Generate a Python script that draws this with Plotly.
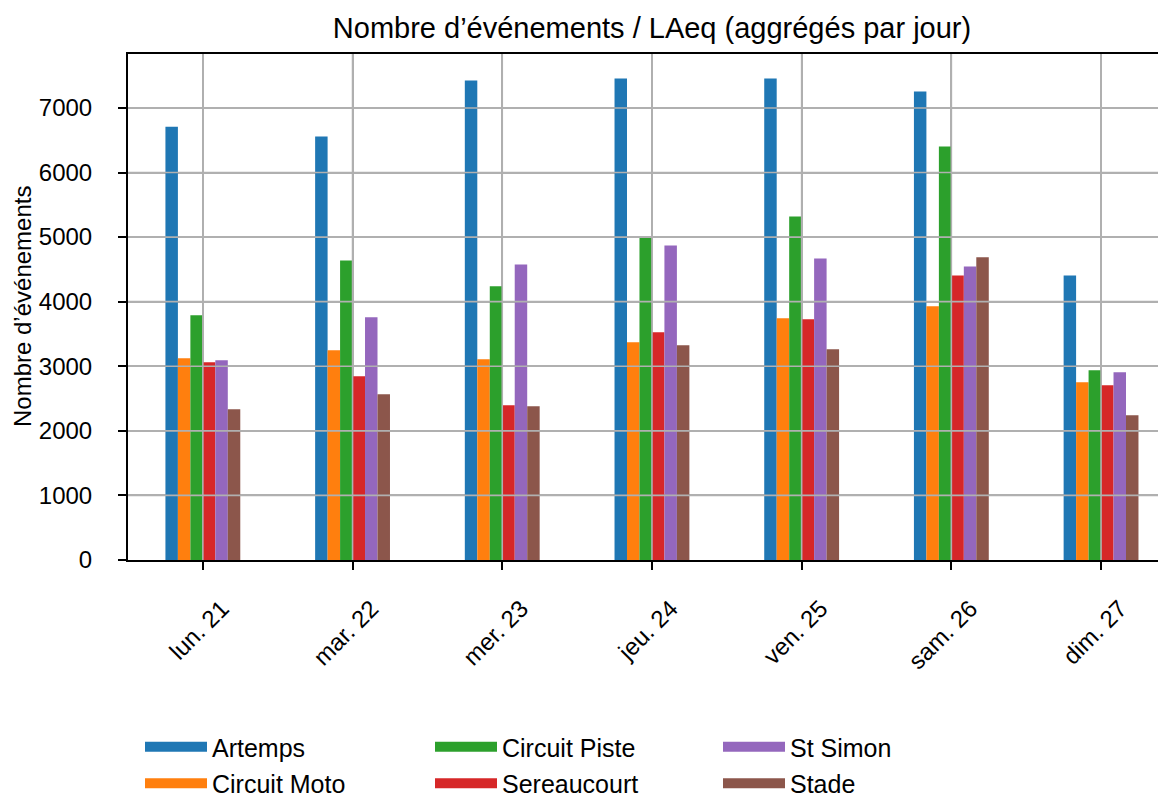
import plotly.graph_objects as go

days = ["lun. 21", "mar. 22", "mer. 23", "jeu. 24", "ven. 25", "sam. 26", "dim. 27"]
artemps = [6710, 6557, 7423, 7454, 7454, 7253, 4407]
circuit_moto = [3124, 3247, 3108, 3371, 3742, 3928, 2753]
circuit_piste = [3789, 4639, 4237, 4985, 5320, 6402, 2938]
sereaucourt = [3062, 2845, 2397, 3526, 3727, 4407, 2706]
st_simon = [3093, 3758, 4577, 4871, 4670, 4546, 2907]
stade = [2335, 2567, 2381, 3325, 3263, 4686, 2242]

series_names = ["Artemps", "Circuit Moto", "Circuit Piste", "Sereaucourt", "St Simon", "Stade"]
series_values = [artemps, circuit_moto, circuit_piste, sereaucourt, st_simon, stade]
colors = ["#1f77b4", "#ff7f0e", "#2ca02c", "#d62728", "#9467bd", "#8c564b"]
legend_ids = ["legend", "legend", "legend2", "legend2", "legend3", "legend3"]
y_ticks = [0, 1000, 2000, 3000, 4000, 5000, 6000, 7000]

FONT = "Liberation Sans"
GRID = "#b0b0b0"
W, H = 1158, 800
L, T = 120, 45.5
PLOT_BOTTOM = 552
B = H - PLOT_BOTTOM

fig = go.Figure()
x_idx = list(range(len(days)))
for name, vals, col, lg in zip(series_names, series_values, colors, legend_ids):
    fig.add_trace(go.Bar(x=x_idx, y=vals, name=name, marker=dict(color=col, line=dict(width=0)),
                         legend=lg, legendgroup=name, showlegend=False))
    # legend swatch entry (wide rectangle like the reference legend)
    fig.add_trace(go.Scatter(x=[None], y=[None], mode="lines", name=name,
                             line=dict(color=col, width=20), legend=lg, legendgroup=name,
                             showlegend=True, hoverinfo="skip"))

# grid lines drawn above bars (as in the reference)
for t in y_ticks[1:]:
    fig.add_shape(type="line", xref="x domain", yref="y", x0=0, x1=1, y0=t, y1=t,
                  line=dict(color=GRID, width=1.6), layer="above")
for i in x_idx:
    fig.add_shape(type="line", xref="x", yref="y domain", x0=i, x1=i, y0=0, y1=1,
                  line=dict(color=GRID, width=1.6), layer="above")

leg_common = dict(orientation="v", xref="container", yref="container", yanchor="top",
                  xanchor="left", font=dict(family=FONT, size=25, color="black"),
                  bgcolor="rgba(0,0,0,0)", tracegroupgap=1, itemwidth=62)
leg_y = 1 - 716 / H

fig.update_layout(
    width=W, height=H,
    margin=dict(l=L, r=0, t=T, b=B, autoexpand=False),
    paper_bgcolor="white", plot_bgcolor="white",
    font=dict(family=FONT, size=24, color="black"),
    barmode="group", bargap=0.5, bargroupgap=0,
    title=dict(text="Nombre d’événements / LAeq (aggrégés par jour)",
               x=644 / W, xanchor="center", xref="container",
               y=1 - 20 / H, yanchor="middle", yref="container",
               font=dict(family=FONT, size=29, color="black")),
    legend=dict(x=132 / W, y=leg_y, **leg_common),
    legend2=dict(x=422 / W, y=leg_y, **leg_common),
    legend3=dict(x=710 / W, y=leg_y, **leg_common),
    showlegend=True,
    annotations=[dict(text="Nombre d’événements", textangle=-90, xref="paper", yref="paper",
                      x=(14 - L) / (W - L), y=0.5, xanchor="center", yanchor="middle",
                      showarrow=False, font=dict(family=FONT, size=24, color="black"))],
)

fig.update_xaxes(
    range=[-0.5, -0.5 + (W - L) / 149.7],
    tickmode="array", tickvals=x_idx, ticktext=days, tickangle=-45,
    ticks="outside", ticklen=8, tickwidth=1.6, tickcolor="black",
    showline=True, linecolor="black", linewidth=2, mirror=True,
    showgrid=True, gridcolor=GRID, gridwidth=1.6, zeroline=False,
    tickfont=dict(family=FONT, size=24, color="black"),
    ticklabelshift=19, ticklabelstandoff=15,
)
fig.update_yaxes(
    range=[0, 7835],
    tickmode="array", tickvals=y_ticks, ticktext=[str(v) for v in y_ticks],
    ticks="outside", ticklen=8, tickwidth=1.6, tickcolor="black",
    showline=True, linecolor="black", linewidth=2, mirror=False,
    showgrid=True, gridcolor=GRID, gridwidth=1.6, zeroline=False,
    tickfont=dict(family=FONT, size=24, color="black"),
    ticklabelstandoff=21,
)

fig.write_html("out.html")
